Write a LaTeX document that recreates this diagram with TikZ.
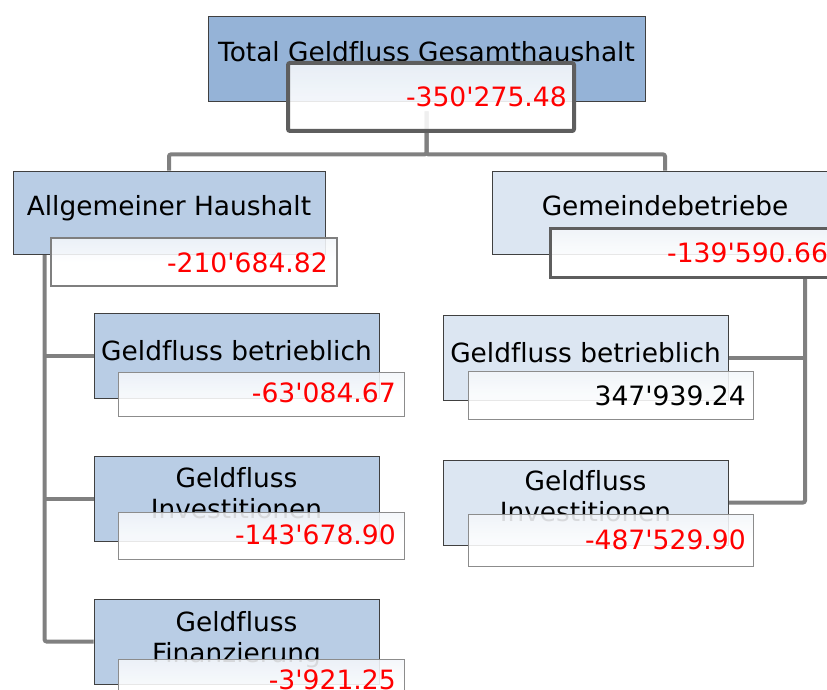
\documentclass[tikz,border=0pt]{standalone}
\usepackage{fontspec}
\newfontfamily\dvs{DejaVu Sans}[Ligatures=CommonOff]
\definecolor{topfill}{HTML}{95B3D7}
\definecolor{leftfill}{HTML}{B9CDE5}
\definecolor{rightfill}{HTML}{DCE6F2}
\definecolor{connc}{HTML}{808080}
\definecolor{valtop}{HTML}{F3F6FA}
\definecolor{darkb}{HTML}{5E5E5E}
\definecolor{midb}{HTML}{7F7F7F}
\definecolor{thinb}{HTML}{8C8C8C}
\definecolor{valred}{HTML}{FF0000}
\begin{document}
\begin{tikzpicture}[x=1pt,y=-1pt,
  box/.style={draw=black!75, line width=0.8pt, inner sep=0pt, minimum width=285pt, minimum height=85pt},
  topbox/.style={box, fill=topfill},
  leftbox/.style={box, fill=leftfill},
  rightbox/.style={box, fill=rightfill},
  valbox/.style={inner sep=0pt, top color=valtop, bottom color=white, middle color=white, fill opacity=0.88, minimum width=286pt},
  thinval/.style={valbox, draw=thinb, line width=1pt},
  lbl/.style={font=\dvs\fontsize{26.4}{31}\selectfont, anchor=base, inner sep=0pt},
  val/.style={font=\dvs\fontsize{26.6}{31}\selectfont, anchor=base east, inner sep=0pt, text=valred},
  conn/.style={draw=connc, line width=4pt, rounded corners=2pt}]
\useasboundingbox (0,0) rectangle (827,690);
\clip (0,0) rectangle (827,690);

% boxes
\node[topbox, minimum width=437pt] (top) at (426.5,58.5) {};
\node[leftbox, minimum width=312pt, minimum height=83pt] (allg) at (169,212.5) {};
\node[rightbox, minimum width=346pt, minimum height=83pt] (gem) at (665,212.5) {};
\node[leftbox] (lc1) at (236.5,355.5) {};
\node[leftbox] (lc2) at (236.5,498.5) {};
\node[leftbox] (lc3) at (236.5,641.5) {};
\node[rightbox] (rc1) at (585.5,357.5) {};
\node[rightbox] (rc2) at (585.5,502.5) {};

% connectors
\coordinate (lt) at ([xshift=32pt]allg.south west);
\coordinate (rt) at (805,277);
\draw[conn] ([yshift=-10pt]top.south) -- ++(0,43) -| (allg.north);
\draw[conn] ([yshift=-10pt]top.south) -- ++(0,43) -| (gem.north);
\draw[conn] (lt) |- (lc3.west);
\draw[conn] (lt |- lc1.west) -- (lc1.west);
\draw[conn] (lt |- lc2.west) -- (lc2.west);
\draw[conn] (rt) |- (rc2.east);
\draw[conn] (rt |- rc1.east) -- (rc1.east);

% redraw boxes over connector ends
\node[topbox, minimum width=437pt] (topb) at (426.5,58.5) {};
\node[leftbox, minimum width=312pt, minimum height=83pt] (allgb) at (169,212.5) {};
\node[rightbox, minimum width=346pt, minimum height=83pt] (gemb) at (665,212.5) {};
\node[leftbox] (lc1b) at (236.5,355.5) {};
\node[leftbox] (lc2b0) at (236.5,498.5) {};
\node[leftbox] (lc3b0) at (236.5,641.5) {};
\node[rightbox] (rc1b) at (585.5,357.5) {};
\node[rightbox] (rc2b0) at (585.5,502.5) {};

% labels
\node[lbl] (toplbl) at (426.5,62) {Total Geldfluss Gesamthaushalt};
\node[lbl] (allglbl) at (169,215) {Allgemeiner Haushalt};
\node[lbl] (gemlbl) at (665,215) {Gemeindebetriebe};
\node[lbl] (lc1lbl) at (236.5,360) {Geldfluss betrieblich};
\node[lbl] (lc2a) at (236.5,487) {Geldfluss};
\node[lbl] (lc2b) at (236.5,518) {Investitionen};
\node[lbl] (lc3a) at (236.5,631) {Geldfluss};
\node[lbl] (lc3b) at (236.5,662) {Finanzierung};
\node[lbl] (rc1lbl) at (585.5,362) {Geldfluss betrieblich};
\node[lbl] (rc2a) at (585.5,490) {Geldfluss};
\node[lbl] (rc2b) at (585.5,521) {Investitionen};

% value boxes
\node[valbox, draw=darkb, line width=4pt, rounded corners=2pt, minimum height=68pt] (topval) at (431,97) {};
\node[valbox, draw=midb, line width=2.5pt, minimum height=48pt] (allgval) at (194,262) {};
\node[valbox, draw=darkb, line width=3pt, minimum height=49pt] (gemval) at (693,252.5) {};
\node[thinval, minimum height=44pt] (lc1val) at (261,394) {};
\node[thinval, minimum height=47pt] (lc2val) at (261,535.5) {};
\node[thinval, minimum height=47pt] (lc3val) at (261,682.5) {};
\node[thinval, minimum width=285pt, minimum height=48pt] (rc1val) at (610.5,395) {};
\node[thinval, minimum width=285pt, minimum height=52pt] (rc2val) at (610.5,540) {};

% values
\node[val] (topv) at (567,107) {-350'275.48};
\node[val] (allgv) at (328,272) {-210'684.82};
\node[val, anchor=base west] (gemv) at (667,262) {-139'590.66};
\node[val] (lc1v) at (396,402) {-63'084.67};
\node[val] (lc2v) at (396,544) {-143'678.90};
\node[val] (lc3v) at (396,689) {-3'921.25};
\node[val, text=black] (rc1v) at (746,405) {347'939.24};
\node[val] (rc2v) at (746,549) {-487'529.90};
\end{tikzpicture}
\end{document}
